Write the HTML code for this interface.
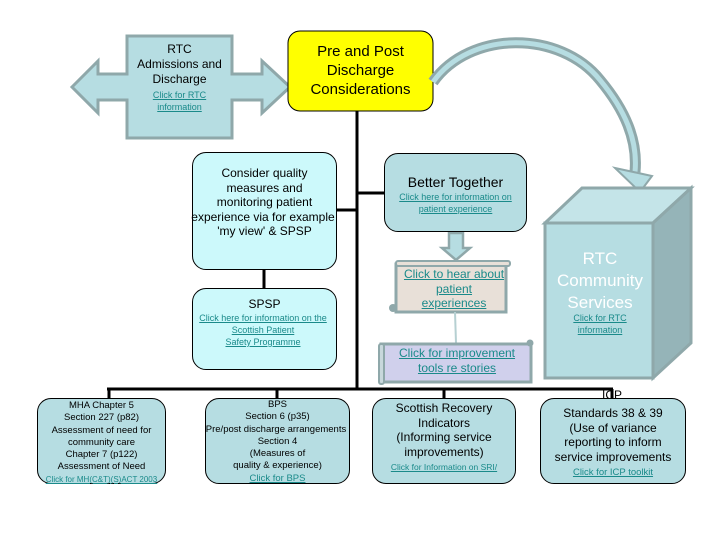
<!DOCTYPE html>
<html><head><meta charset="utf-8"><style>
body{margin:0;width:720px;height:540px;background:#fff;position:relative;overflow:hidden;font-family:"Liberation Sans",sans-serif}
.b{position:absolute;box-sizing:border-box;text-align:center;color:#000}
.l{color:#1a8a8a;text-decoration:underline}
svg{position:absolute;left:0;top:0}
</style></head><body>
<svg width="720" height="540">
<polygon points="72,87 98,61 98,74 127,74 127,36 232,36 232,74 262,74 262,61 290,87 262,113 262,100 232,100 232,138 127,138 127,100 98,100 98,113" fill="#b6dde2" stroke="#8fa8aa" stroke-width="3"/>
<rect x="288" y="31" width="145" height="80" rx="12" fill="#ffff00" stroke="#000" stroke-width="1"/>
<path d="M433,82 C470,30 560,30 600,80 C625,110 638,140 635,172" fill="none" stroke="#8fa8aa" stroke-width="11"/>
<path d="M433,82 C470,30 560,30 600,80 C625,110 638,140 635,172" fill="none" stroke="#b6dde2" stroke-width="5"/>
<polygon points="615,168 652,176 640,192" fill="#b6dde2" stroke="#8fa8aa" stroke-width="2"/>
<g stroke="#000" stroke-width="3" fill="none">
<line x1="357" y1="111" x2="357" y2="389"/>
<line x1="337" y1="210" x2="357" y2="210"/>
<line x1="357" y1="193" x2="384" y2="193"/>
<line x1="264" y1="270" x2="264" y2="288"/>
<line x1="107" y1="389" x2="613" y2="389"/>
<line x1="109" y1="389" x2="109" y2="399"/>
<line x1="277" y1="389" x2="277" y2="399"/>
<line x1="444" y1="389" x2="444" y2="399"/>
<line x1="612" y1="389" x2="612" y2="399"/>
</g>
<polygon points="545,223 582,188 691,188 653,223" fill="#c4e4e8" stroke="#8fa8aa" stroke-width="3"/>
<polygon points="653,223 691,188 691,343 653,378" fill="#95b4b8" stroke="#8fa8aa" stroke-width="3"/>
<rect x="545" y="223" width="108" height="155" fill="#b6dde2" stroke="#8fa8aa" stroke-width="3"/>
<polygon points="449,233 463,233 463,248 470,248 456,260 442,248 449,248" fill="#b6dde2" stroke="#8fa8aa" stroke-width="2.5"/>
<rect x="396" y="264" width="110" height="48" fill="#e8e0d8" stroke="#8fa8aa" stroke-width="3"/>
<rect x="396" y="261" width="114" height="5" rx="2" fill="#e8e0d8" stroke="#8fa8aa" stroke-width="2"/>
<circle cx="393" cy="308" r="4" fill="#8fa8aa"/>
<line x1="455" y1="312" x2="456" y2="343" stroke="#b6d0d2" stroke-width="2"/>
<rect x="381" y="344" width="150" height="38" fill="#d0d0ec" stroke="#8fa8aa" stroke-width="3"/>
<rect x="379" y="344" width="5" height="40" rx="2" fill="#c8d8dc" stroke="#8fa8aa" stroke-width="2"/>
<circle cx="530" cy="343" r="3.5" fill="#8fa8aa"/>
</svg>

<div class="b" style="left:127px;top:42px;width:105px;font-size:12px;line-height:15px">RTC<br>Admissions and<br>Discharge</div>
<div class="b l" style="left:127px;top:89px;width:105px;font-size:9px;line-height:12px">Click for RTC<br>information</div>
<div class="b" style="left:288px;top:42px;width:145px;font-size:15px;line-height:19px">Pre and Post<br>Discharge<br>Considerations</div>

<div class="b" style="left:192px;top:152px;width:145px;height:118px;border:1px solid #000;border-radius:14px;background:#ccf9fb;font-size:12px;line-height:14.5px;padding-top:13px">Consider quality<br>measures and<br>monitoring patient<br><span style="white-space:nowrap;margin-left:-3px">experience via for example</span><br>'my view' &amp; SPSP</div>
<div class="b" style="left:192px;top:288px;width:145px;height:82px;border:1px solid #000;border-radius:14px;background:#ccf9fb;padding-top:7px"><div style="font-size:12px;line-height:16px">SPSP</div><div class="l" style="font-size:9px;line-height:12px;white-space:nowrap;margin-left:-3px">Click here for information on the<br>Scottish Patient<br>Safety Programme</div></div>

<div class="b" style="left:384px;top:153px;width:143px;height:79px;border:1px solid #000;border-radius:14px;background:#b6dde2;padding-top:20px"><div style="font-size:14px;line-height:17px">Better Together</div><div class="l" style="font-size:9px;line-height:12px">Click here for information on<br>patient experience</div></div>

<div class="b l" style="left:396px;top:267px;width:116px;font-size:12px;line-height:14.5px">Click to hear about<br>patient<br>experiences</div>
<div class="b l" style="left:384px;top:346px;width:146px;font-size:12px;line-height:14.5px">Click for improvement<br>tools re stories</div>

<div class="b" style="left:545px;top:248px;width:110px;font-size:17px;line-height:22px;color:#ffffff">RTC<br>Community<br>Services</div>
<div class="b l" style="left:545px;top:312px;width:110px;font-size:9px;line-height:12px">Click for RTC<br>information</div>

<div class="b" style="left:37px;top:398px;width:129px;height:86px;border:1px solid #000;border-radius:14px;background:#b6dde2;font-size:9.5px;line-height:12.3px;padding-top:1px">MHA Chapter 5<br>Section 227 (p82)<br>Assessment of  need for<br>community care<br>Chapter 7 (p122)<br>Assessment of Need<br><span class="l" style="font-size:8px">Click for MH(C&amp;T)(S)ACT 2003</span></div>
<div class="b" style="left:205px;top:398px;width:145px;height:86px;border:1px solid #000;border-radius:14px;background:#b6dde2;font-size:9.5px;line-height:12.3px;padding-top:0">BPS<br>Section 6 (p35)<br><span style="white-space:nowrap;margin-left:-3px">Pre/post discharge arrangements</span><br>Section 4<br>(Measures of<br>quality &amp; experience)<br><span class="l">Click for BPS</span></div>
<div class="b" style="left:372px;top:398px;width:144px;height:86px;border:1px solid #000;border-radius:14px;background:#b6dde2;font-size:12px;line-height:14.5px;padding-top:2px">Scottish Recovery<br>Indicators<br>(Informing service<br>improvements)<br><span class="l" style="font-size:8.5px">Click for Information on SRI/</span></div>
<div class="b" style="left:540px;top:398px;width:146px;height:86px;border:1px solid #000;border-radius:14px;background:#b6dde2;font-size:12px;line-height:14.5px;padding-top:7px">Standards 38 &amp; 39<br>(Use of variance<br>reporting to inform<br>service improvements<br><span class="l" style="font-size:9.5px">Click for ICP toolkit</span></div>
<div class="b" style="left:590px;top:388px;width:44px;font-size:12px;line-height:14px;background:transparent">ICP</div>
</body></html>
